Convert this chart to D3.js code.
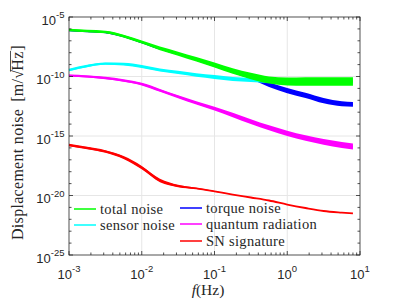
<!DOCTYPE html>
<html>
<head>
<meta charset="utf-8">
<script src="https://cdn.jsdelivr.net/npm/d3@7"></script>
<style>
  body { margin: 0; background: #fff; }
  svg { display: block; }
</style>
</head>
<body>
<div id="chart"></div>
<script>
var freq = [0.001, 0.00178, 0.00316, 0.00562, 0.01, 0.0178, 0.0316, 0.0562, 0.1,
            0.178, 0.316, 0.562, 1, 1.78, 3.16, 5.62, 8];

// displacement noise (m/sqrt(Hz))
var totalNoise = [8.1e-7, 6.6e-7, 5.5e-7, 2.5e-7, 7.9e-8, 2.3e-8, 8.3e-9, 2.8e-9, 9.3e-10,
                  2.9e-10, 1.1e-10, 5.1e-11, 3.8e-11, 3.8e-11, 3.8e-11, 3.8e-11, 3.8e-11];
var sensorNoise = [3.5e-10, 7.6e-10, 1.2e-9, 1.1e-9, 6.9e-10, 3.5e-10, 2.2e-10, 1.35e-10, 9.1e-11,
                   6.2e-11, 5.1e-11, 4.2e-11, 3.8e-11, 3.8e-11, 3.8e-11, 3.8e-11, 3.8e-11];
var torqueNoise = [7.6e-7, 6.2e-7, 5.2e-7, 2.35e-7, 7.4e-8, 2.15e-8, 7.8e-9, 2.6e-9, 8.5e-10,
                   2.6e-10, 9e-11, 2.1e-11, 6.5e-12, 2.6e-12, 9.3e-13, 5.1e-13, 4.6e-13];
var quantumRad = [1.17e-10, 1.0e-10, 7.4e-11, 4.6e-11, 2.3e-11, 6.9e-12, 2.0e-12, 6.0e-13, 2.0e-13,
                  5.8e-14, 1.65e-14, 4.9e-15, 1.7e-15, 6.8e-16, 3.2e-16, 1.75e-16, 1.3e-16];
var snSignature = [1.74e-16, 9.8e-17, 5.0e-17, 1.55e-17, 2.2e-18, 1.8e-19, 6.3e-20, 3.9e-20, 2.2e-20,
                   1.2e-20, 6.8e-21, 3.8e-21, 1.74e-21, 8.9e-22, 5.0e-22, 3.7e-22, 3.2e-22];

// half width of the noisy band, in decades
var totalSpread = [0.1, 0.1, 0.11, 0.12, 0.13, 0.15, 0.17, 0.19, 0.21, 0.24, 0.27, 0.3, 0.33, 0.35, 0.36, 0.36, 0.36];
var sensorSpread = [0.1, 0.1, 0.1, 0.11, 0.12, 0.13, 0.14, 0.15, 0.16, 0.17, 0.17, 0.17, 0.17, 0.17, 0.17, 0.17, 0.17];
var torqueSpread = [0.05, 0.05, 0.05, 0.05, 0.06, 0.07, 0.08, 0.09, 0.1, 0.12, 0.16, 0.2, 0.22, 0.22, 0.22, 0.21, 0.2];
var quantumSpread = [0.09, 0.09, 0.1, 0.1, 0.11, 0.12, 0.13, 0.14, 0.16, 0.18, 0.2, 0.21, 0.22, 0.23, 0.24, 0.25, 0.25];
var snSpread = [0.1, 0.1, 0.11, 0.12, 0.14, 0.15, 0.1, 0.05, 0.03, 0.01, 0.0, 0.0, 0.0, 0.0, 0.0, 0.0, 0.0];

var xTicks = [1e-3, 1e-2, 1e-1, 1, 10];
var xExp = ["-3", "-2", "-1", "0", "1"];
var yTicks = [1e-25, 1e-20, 1e-15, 1e-10, 1e-5];
var yExp = ["-25", "-20", "-15", "-10", "-5"];

var series = [
  { name: "SN signature", values: snSignature, spread: snSpread, color: "#ff0000" },
  { name: "quantum radiation", values: quantumRad, spread: quantumSpread, color: "#ff00ff" },
  { name: "torque noise", values: torqueNoise, spread: torqueSpread, color: "#0000ff" },
  { name: "sensor noise", values: sensorNoise, spread: sensorSpread, color: "#00ffff" },
  { name: "total noise", values: totalNoise, spread: totalSpread, color: "#00ff00" }
];
var legendOrder = ["total noise", "sensor noise", "torque noise", "quantum radiation", "SN signature"];

var sansFont = "'Liberation Sans', Arial, Helvetica, sans-serif";
var serifFont = "'Liberation Serif', 'Times New Roman', serif";

var svgWidth = 399;
var svgHeight = 299;
var margin = { top: 17, right: 39, bottom: 44, left: 69 };
var width = svgWidth - margin.left - margin.right;
var height = svgHeight - margin.top - margin.bottom;

var svg = d3.select("#chart")
  .append("svg")
  .attr("width", svgWidth)
  .attr("height", svgHeight);

var chartGroup = svg.append("g")
  .attr("transform", `translate(${margin.left}, ${margin.top})`);

var xScale = d3.scaleLog().domain([1e-3, 10]).range([0, width]);
var yScale = d3.scaleLog().domain([1e-25, 1e-5]).range([height, 0]);

// grid
chartGroup.append("g")
  .selectAll("line")
  .data(xTicks.slice(1, -1))
  .enter()
  .append("line")
  .attr("x1", d => xScale(d)).attr("x2", d => xScale(d))
  .attr("y1", 0).attr("y2", height)
  .attr("stroke", "#e6e6e6").attr("stroke-width", 1);

chartGroup.append("g")
  .selectAll("line")
  .data(yTicks.slice(1, -1))
  .enter()
  .append("line")
  .attr("x1", 0).attr("x2", width)
  .attr("y1", d => yScale(d)).attr("y2", d => yScale(d))
  .attr("stroke", "#e6e6e6").attr("stroke-width", 1);

// curves drawn as noisy bands
var pts = d => freq.map((f, i) => ({ f: f, v: d.values[i], s: d.spread[i] }));

var band = d3.area()
  .x(d => xScale(d.f))
  .y0(d => yScale(d.v / Math.pow(10, d.s)))
  .y1(d => yScale(d.v * Math.pow(10, d.s)))
  .curve(d3.curveMonotoneX);

var line = d3.line()
  .x(d => xScale(d.f))
  .y(d => yScale(d.v))
  .curve(d3.curveMonotoneX);

series.forEach(function(s) {
  chartGroup.append("path")
    .attr("d", band(pts(s)))
    .attr("fill", s.color)
    .attr("stroke", "none");
  chartGroup.append("path")
    .attr("d", line(pts(s)))
    .attr("fill", "none")
    .attr("stroke", s.color)
    .attr("stroke-width", 1.8);
});

// axes box and ticks
var axisColor = "#262626";
chartGroup.append("rect")
  .attr("x", 0).attr("y", 0)
  .attr("width", width).attr("height", height)
  .attr("fill", "none")
  .attr("stroke", axisColor)
  .attr("stroke-width", 0.8);

var xMinor = [];
[1e-3, 1e-2, 1e-1, 1].forEach(function(dec) {
  for (var k = 2; k <= 9; k++) xMinor.push(dec * k);
});
var yMinor = d3.range(-24, -5).filter(e => e % 5 !== 0).map(e => Math.pow(10, e));

var tickG = chartGroup.append("g")
  .attr("stroke", axisColor)
  .attr("stroke-width", 0.8);

xTicks.forEach(function(t) {
  tickG.append("line").attr("x1", xScale(t)).attr("x2", xScale(t)).attr("y1", height).attr("y2", height - 4);
  tickG.append("line").attr("x1", xScale(t)).attr("x2", xScale(t)).attr("y1", 0).attr("y2", 4);
});
xMinor.forEach(function(t) {
  tickG.append("line").attr("x1", xScale(t)).attr("x2", xScale(t)).attr("y1", height).attr("y2", height - 2.5);
  tickG.append("line").attr("x1", xScale(t)).attr("x2", xScale(t)).attr("y1", 0).attr("y2", 2.5);
});
yTicks.forEach(function(t) {
  tickG.append("line").attr("x1", 0).attr("x2", 4).attr("y1", yScale(t)).attr("y2", yScale(t));
  tickG.append("line").attr("x1", width).attr("x2", width - 4).attr("y1", yScale(t)).attr("y2", yScale(t));
});
yMinor.forEach(function(t) {
  tickG.append("line").attr("x1", 0).attr("x2", 2.5).attr("y1", yScale(t)).attr("y2", yScale(t));
  tickG.append("line").attr("x1", width).attr("x2", width - 2.5).attr("y1", yScale(t)).attr("y2", yScale(t));
});

// tick labels
xTicks.forEach(function(t, i) {
  var txt = chartGroup.append("text")
    .attr("x", xScale(t))
    .attr("y", height + 23.5)
    .attr("text-anchor", "middle")
    .attr("font-family", sansFont)
    .attr("font-size", 13)
    .attr("fill", axisColor);
  txt.append("tspan").text("10");
  txt.append("tspan").attr("dy", -6.5).attr("font-size", 9.5).text(xExp[i]);
});

yTicks.forEach(function(t, i) {
  var txt = chartGroup.append("text")
    .attr("x", -4.5)
    .attr("y", yScale(t) + 7.5)
    .attr("text-anchor", "end")
    .attr("font-family", sansFont)
    .attr("font-size", 13)
    .attr("fill", axisColor);
  txt.append("tspan").text("10");
  txt.append("tspan").attr("dy", -6.5).attr("font-size", 9.5).text(yExp[i]);
});

// y label: pieces laid out one after the other along the rotated baseline
var yLab = svg.append("g")
  .attr("transform", "translate(23, 240) rotate(-90)");
var cursor = 0;
function labelPiece(str, gap) {
  cursor += gap || 0;
  var t = yLab.append("text")
    .attr("x", cursor)
    .attr("y", 0)
    .attr("font-family", serifFont)
    .attr("font-size", 16)
    .attr("letter-spacing", 0.3)
    .attr("fill", axisColor)
    .text(str);
  var start = cursor;
  cursor += t.node().getComputedTextLength();
  return start;
}
labelPiece("Displacement noise");
labelPiece("[m/", 7);
labelPiece("\u221A");
var hzStart = labelPiece("Hz", -1);
yLab.append("line")
  .attr("x1", hzStart - 1).attr("x2", cursor + 0.5)
  .attr("y1", -12.5).attr("y2", -12.5)
  .attr("stroke", axisColor)
  .attr("stroke-width", 0.8);
labelPiece("]", 0.5);

var xLab = svg.append("text")
  .attr("x", 208)
  .attr("y", 295)
  .attr("text-anchor", "middle")
  .attr("font-family", serifFont)
  .attr("font-size", 15.5)
  .attr("fill", axisColor);
xLab.append("tspan").attr("font-style", "italic").text("f");
xLab.append("tspan").text("(Hz)");

// legend (no box)
var legendPos = [
  { x: 5, y: 192 }, { x: 5, y: 208 }, { x: 111, y: 191 }, { x: 111, y: 207 }, { x: 111, y: 224 }
];
legendOrder.forEach(function(name, i) {
  var s = series.find(d => d.name === name);
  var p = legendPos[i];
  chartGroup.append("line")
    .attr("x1", p.x).attr("x2", p.x + 22)
    .attr("y1", p.y).attr("y2", p.y)
    .attr("stroke", s.color)
    .attr("stroke-width", 1.5);
  chartGroup.append("text")
    .attr("x", p.x + 26)
    .attr("y", p.y + 4.5)
    .attr("font-family", serifFont)
    .attr("font-size", 14.5)
    .attr("letter-spacing", 0.3)
    .attr("fill", axisColor)
    .text(name);
});
</script>
</body>
</html>
